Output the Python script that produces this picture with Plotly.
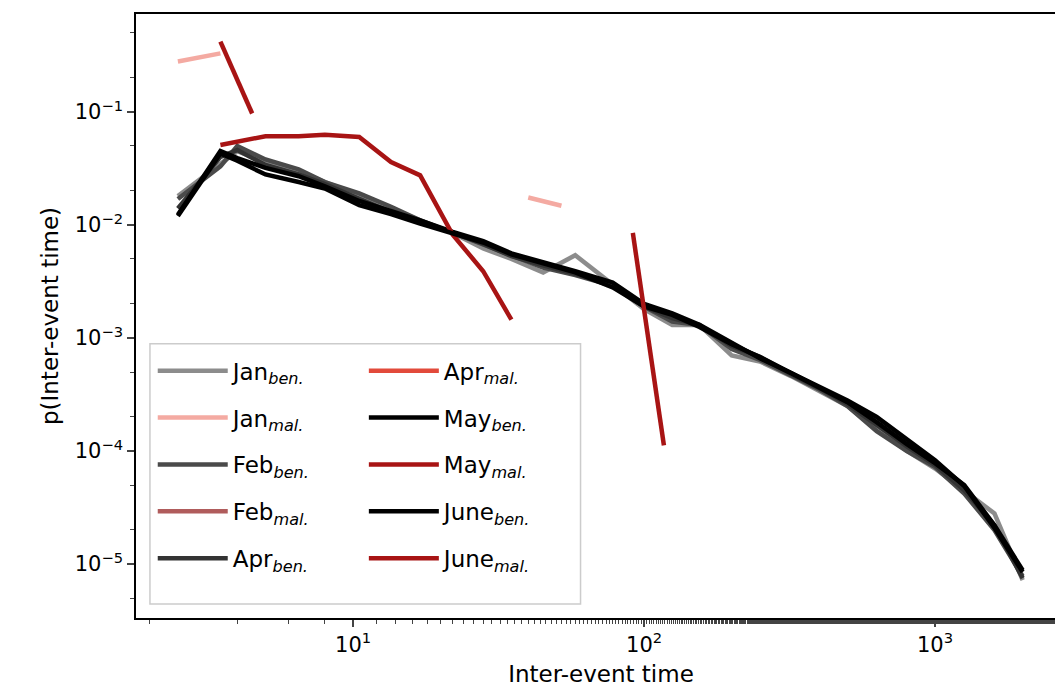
import plotly.graph_objects as go

x_ben = [2.5, 3.5, 4, 5, 6.5, 8, 10.5, 13.5, 17, 22, 28, 35, 45, 58, 78, 100, 125, 155, 200, 250, 320, 400, 500, 630, 800, 1000, 1260, 1600, 2000]
may_ben = [0.0123, 0.045, 0.039, 0.032, 0.027, 0.022, 0.0163, 0.0133, 0.011, 0.0087, 0.0072, 0.0056, 0.0047, 0.0039, 0.0031, 0.002, 0.00165, 0.00131, 0.00091, 0.00066, 0.00049, 0.00037, 0.00028, 0.0002, 0.000126, 0.0000828, 0.000049, 0.0000208, 0.0000085]
jan_ben = [0.018, 0.035, 0.045, 0.036, 0.03, 0.024, 0.018, 0.014, 0.011, 0.0085, 0.0062, 0.005, 0.0038, 0.0054, 0.003, 0.0018, 0.0013, 0.0013, 0.0007, 0.00062, 0.00046, 0.00034, 0.00025, 0.000155, 0.0001, 0.00007, 0.000045, 0.000028, 0.0000072]
feb_ben = [0.017, 0.033, 0.05, 0.038, 0.031, 0.024, 0.019, 0.0145, 0.011, 0.0085, 0.0066, 0.0054, 0.0042, 0.0036, 0.0029, 0.0019, 0.0014, 0.0013, 0.0008, 0.00064, 0.00047, 0.00035, 0.00025, 0.00015, 0.0001, 0.000072, 0.000042, 0.00002, 0.0000078]
apr_ben = [0.014, 0.04, 0.046, 0.034, 0.028, 0.023, 0.017, 0.013, 0.0105, 0.0086, 0.0068, 0.0053, 0.0044, 0.0037, 0.0029, 0.0019, 0.0015, 0.0013, 0.00085, 0.00068, 0.00048, 0.00036, 0.00026, 0.00017, 0.00011, 0.000075, 0.000045, 0.000022, 0.0000075]
june_ben = [0.012, 0.043, 0.037, 0.028, 0.024, 0.021, 0.015, 0.0125, 0.0103, 0.0085, 0.007, 0.0055, 0.0046, 0.0038, 0.0028, 0.0019, 0.0016, 0.00125, 0.00088, 0.00068, 0.00049, 0.00036, 0.00027, 0.00018, 0.000115, 0.000078, 0.00005, 0.000022, 0.0000088]

x_jan_mal = [2.5, 3.5, None, 40, 52]
jan_mal = [0.28, 0.33, None, 0.0175, 0.0148]
x_may_mal = [3.5, 4, 5, 6.5, 8, 10.5, 13.5, 17, 22, 28, 35]
may_mal = [0.051, 0.055, 0.061, 0.061, 0.063, 0.06, 0.036, 0.0275, 0.0082, 0.0039, 0.00145]
x_june_mal = [3.5, 4.5, None, 91.5, 117]
june_mal = [0.42, 0.097, None, 0.0085, 0.000112]

x_tickvals = [10, 100, 1000]
x_ticktext = ["10<sup>1</sup>", "10<sup>2</sup>", "10<sup>3</sup>"]
y_tickvals = [1e-5, 1e-4, 1e-3, 1e-2, 1e-1]
y_ticktext = ["10<sup>−5</sup>", "10<sup>−4</sup>", "10<sup>−3</sup>", "10<sup>−2</sup>", "10<sup>−1</sup>"]

def sub(m, s):
    return f"{m}<sub><i>{s}</i></sub>"

fig = go.Figure()
W = 4.5
left = [
    ("Jan", "ben.", x_ben, jan_ben, "rgba(128,128,128,0.9)"),
    ("Jan", "mal.", x_jan_mal, jan_mal, "#f4aaa2"),
    ("Feb", "ben.", x_ben, feb_ben, "#4a4a4a"),
    ("Feb", "mal.", [None], [None], "#b05c5c"),
    ("Apr", "ben.", x_ben, apr_ben, "#333333"),
]
right = [
    ("Apr", "mal.", [None], [None], "#e24a3b"),
    ("May", "ben.", x_ben, may_ben, "#000000"),
    ("May", "mal.", x_may_mal, may_mal, "#a81414"),
    ("June", "ben.", x_ben, june_ben, "#000000"),
    ("June", "mal.", x_june_mal, june_mal, "#a81414"),
]
i = 0
for lg, items in (("legend", left), ("legend2", right)):
    for m, s, xs, ys, c in items:
        i += 1
        fig.add_trace(go.Scatter(x=xs, y=ys, mode="lines", name=sub(m, s), legendgroup=f"g{i}",
                                 line=dict(color=c, width=W), legend=lg))

fig.add_shape(type="rect", xref="paper", yref="paper", x0=0.015, x1=0.478, y0=0.023, y1=0.454,
              line=dict(color="#cccccc", width=1.5), fillcolor="rgba(255,255,255,0.85)", layer="above")

axis = dict(type="log", showgrid=False, ticks="outside", ticklen=7, tickwidth=1.5,
            showline=True, linecolor="black", linewidth=1.5, mirror=True, automargin=False,
            tickfont=dict(size=21, color="black"),
            minor=dict(ticks="outside", ticklen=4, tickwidth=1, showgrid=False))
fig.update_layout(
    width=1063, height=696, plot_bgcolor="white", paper_bgcolor="white",
    margin=dict(l=128, r=5, t=6, b=86),
    font=dict(family="DejaVu Sans", size=21, color="black"),
    xaxis=dict(axis, range=[0.254, 3.45], tickvals=x_tickvals, ticktext=x_ticktext,
               title=dict(text="Inter-event time", font=dict(size=23), standoff=10)),
    yaxis=dict(axis, range=[-5.478, -0.133], tickvals=y_tickvals, ticktext=y_ticktext,
               title=dict(text="p(Inter-event time)", font=dict(size=23), standoff=10)),
    legend=dict(x=0.018, y=0.445, xanchor="left", yanchor="top", bgcolor="rgba(0,0,0,0)",
                font=dict(size=23), itemwidth=70, tracegroupgap=14),
    legend2=dict(x=0.245, y=0.445, xanchor="left", yanchor="top", bgcolor="rgba(0,0,0,0)",
                 font=dict(size=23), itemwidth=70, tracegroupgap=14),
    showlegend=True,
)
fig.write_html("out.html")
